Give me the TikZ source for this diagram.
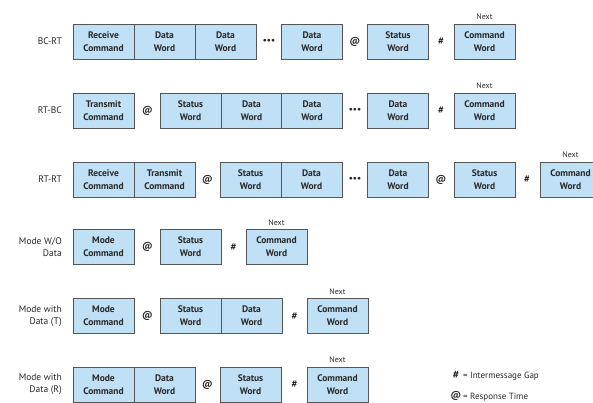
\documentclass[tikz,border=0pt]{standalone}
\usepackage{fontspec}
\setmainfont{PT Sans}
\definecolor{boxfill}{RGB}{192,224,246}
\definecolor{boxline}{RGB}{85,85,85}
\definecolor{txt}{RGB}{40,40,40}
\begin{document}
\begin{tikzpicture}[x=1pt,y=-1pt,
  wbox/.style={draw=boxline, fill=boxfill, line width=0.9pt, minimum width=61pt, minimum height=35pt,
    inner sep=0pt, align=center, text=txt, font=\fontsize{9.5}{13}\selectfont\bfseries},
  sym/.style={text=txt, font=\fontsize{10}{12}\selectfont\bfseries, inner sep=0pt},
  dotsn/.style={text=txt, font=\fontsize{9}{11}\selectfont\bfseries, inner sep=0pt},
  nextl/.style={anchor=south, text=txt, font=\fontsize{8}{9}\selectfont, inner sep=0pt, yshift=3.5pt},
  rowl/.style={anchor=east, align=right, text=txt, font=\fontsize{9.5}{12}\selectfont, inner sep=0pt},
  legl/.style={anchor=west, text=txt, font=\fontsize{9}{10}\selectfont, inner sep=0pt}]
\useasboundingbox (0,0) rectangle (593,402);
\clip (0,0) rectangle (593,402);
% Row 1: BC-RT
\node[rowl] (l1) at (62,41.5) {BC-RT};
\node[wbox] (a1) at (103.5,41.5) {Receive\\Command};
\node[wbox] (a2) at (164.5,41.5) {Data\\Word};
\node[wbox] (a3) at (225.5,41.5) {Data\\Word};
\node[dotsn] (a4) at (269,41.5) {•••};
\node[wbox] (a5) at (312,41.5) {Data\\Word};
\node[sym] (a6) at (355,41.5) {@};
\node[wbox] (a7) at (398,41.5) {Status\\Word};
\node[sym] (a8) at (441,41.5) {\#};
\node[wbox] (a9) at (484.5,41.5) {Command\\Word};
\node[nextl] (a10) at (a9.north) {Next};
% Row 2: RT-BC
\node[rowl] (l2) at (62,110.5) {RT-BC};
\node[wbox] (b1) at (103.5,110.5) {Transmit\\Command};
\node[sym] (b2) at (147.5,110.5) {@};
\node[wbox] (b3) at (190.5,110.5) {Status\\Word};
\node[wbox] (b4) at (251.5,110.5) {Data\\Word};
\node[wbox] (b5) at (312,110.5) {Data\\Word};
\node[dotsn] (b6) at (355,110.5) {•••};
\node[wbox] (b7) at (398,110.5) {Data\\Word};
\node[sym] (b8) at (441,110.5) {\#};
\node[wbox] (b9) at (484.5,110.5) {Command\\Word};
\node[nextl] (b10) at (b9.north) {Next};
% Row 3: RT-RT
\node[rowl] (l3) at (62,179.5) {RT-RT};
\node[wbox] (c1) at (103.5,179.5) {Receive\\Command};
\node[wbox] (c2) at (164.5,179.5) {Transmit\\Command};
\node[sym] (c3) at (207.5,179.5) {@};
\node[wbox] (c4) at (250.5,179.5) {Status\\Word};
\node[wbox] (c5) at (311.5,179.5) {Data\\Word};
\node[dotsn] (c6) at (355,179.5) {•••};
\node[wbox] (c7) at (398,179.5) {Data\\Word};
\node[sym] (c8) at (441,179.5) {@};
\node[wbox] (c9) at (484.5,179.5) {Status\\Word};
\node[sym] (c10) at (527,179.5) {\#};
\node[wbox] (c11) at (570.5,179.5) {Command\\Word};
\node[nextl] (c12) at (c11.north) {Next};
% Row 4: Mode W/O Data
\node[rowl] (l4) at (62,247) {Mode W/O\\Data};
\node[wbox] (d1) at (103.5,247) {Mode\\Command};
\node[sym] (d2) at (147.5,247) {@};
\node[wbox] (d3) at (190.5,247) {Status\\Word};
\node[sym] (d4) at (233.5,247) {\#};
\node[wbox] (d5) at (276.5,247) {Command\\Word};
\node[nextl] (d6) at (d5.north) {Next};
% Row 5: Mode with Data (T)
\node[rowl] (l5) at (62,316) {Mode with\\Data (T)};
\node[wbox] (e1) at (103.5,316) {Mode\\Command};
\node[sym] (e2) at (147.5,316) {@};
\node[wbox] (e3) at (190.5,316) {Status\\Word};
\node[wbox] (e4) at (251.5,316) {Data\\Word};
\node[sym] (e5) at (294.5,316) {\#};
\node[wbox] (e6) at (337.5,316) {Command\\Word};
\node[nextl] (e7) at (e6.north) {Next};
% Row 6: Mode with Data (R)
\node[rowl] (l6) at (62,384.5) {Mode with\\Data (R)};
\node[wbox] (f1) at (103.5,384.5) {Mode\\Command};
\node[wbox] (f2) at (164.5,384.5) {Data\\Word};
\node[sym] (f3) at (207.5,384.5) {@};
\node[wbox] (f4) at (250.5,384.5) {Status\\Word};
\node[sym] (f5) at (294.5,384.5) {\#};
\node[wbox] (f6) at (337.5,384.5) {Command\\Word};
\node[nextl] (f7) at (f6.north) {Next};
% Legend
\node[sym, font=\fontsize{11}{12}\selectfont\bfseries] (g1) at (456,375) {\#};
\node[legl] (g2) at (463,376) {= Intermessage Gap};
\node[sym] (g3) at (456,396) {@};
\node[legl] (g4) at (463,397) {= Response Time};
\end{tikzpicture}
\end{document}
